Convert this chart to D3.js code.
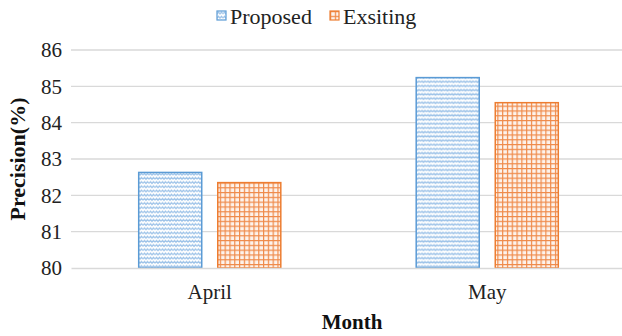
<!DOCTYPE html>
<html>
<head>
<meta charset="utf-8">
<script src="https://cdn.jsdelivr.net/npm/d3@7"></script>
<style>
  html, body { margin: 0; padding: 0; background: #fff; }
  svg { display: block; }
</style>
</head>
<body>
<svg id="chart" width="622" height="336"></svg>
<script>
// Monthly precision, proposed vs existing method
const months = ["April", "May"];
const seriesNames = ["Proposed", "Exsiting"];
const proposed = [82.63, 85.24];
const existing = [82.35, 84.55];
const yTicks = [80, 81, 82, 83, 84, 85, 86];

const FONT = "Liberation Serif";
const svg = d3.select("#chart");
const margin = { left: 71, right: -4, top: 50, bottom: 68 };
const W = 622, H = 336;
const x0 = margin.left, x1 = W - margin.right;
const yTop = margin.top, yBot = H - margin.bottom;

const rows = months.map((m, i) => ({ month: m, values: [proposed[i], existing[i]] }));

const x = d3.scaleBand().domain(months).range([x0, x1]).paddingInner(0).paddingOuter(0);
const xs = d3.scaleBand().domain(seriesNames).range([0, x.bandwidth()]).paddingInner(0.19).paddingOuter(0.85);
const y = d3.scaleLinear().domain([80, 86]).range([yBot, yTop]);

// Fill patterns
const defs = svg.append("defs");
const wave = defs.append("pattern").attr("id", "wave").attr("patternUnits", "userSpaceOnUse")
  .attr("width", 6).attr("height", 4.2);
wave.append("rect").attr("width", 6).attr("height", 4.2).attr("fill", "#fff");
wave.append("path").attr("d", "M0,2.8 L1.5,1.2 L3,2.8 L4.5,1.2 L6,2.8")
  .attr("fill", "none").attr("stroke", "#9cc2e8").attr("stroke-width", 1.3);

const grid = defs.append("pattern").attr("id", "grid").attr("patternUnits", "userSpaceOnUse")
  .attr("width", 4.8).attr("height", 4.8);
grid.append("rect").attr("width", 4.8).attr("height", 4.8).attr("fill", "#fdf3ec");
grid.append("path").attr("d", "M0.6,0 V4.8 M0,0.6 H4.8")
  .attr("stroke", "#ef8a4a").attr("stroke-width", 1.2);

const fills = { Proposed: "url(#wave)", Exsiting: "url(#grid)" };
const strokes = { Proposed: "#5b9bd5", Exsiting: "#ed7d31" };

// Gridlines
svg.append("g").selectAll("line").data(yTicks.filter(t => t !== 80)).join("line")
  .attr("x1", x0).attr("x2", x1)
  .attr("y1", d => y(d)).attr("y2", d => y(d))
  .attr("stroke", "#d9d9d9").attr("stroke-width", 1.3);

// Y axis labels
const yAxis = d3.axisLeft(y).tickValues(yTicks).tickSize(0).tickPadding(9).tickFormat(d3.format("d"));
const ya = svg.append("g").attr("transform", `translate(${x0},0)`).call(yAxis)
  .attr("font-family", FONT).attr("font-size", 21);
ya.select(".domain").remove();
ya.selectAll("text").attr("fill", "#222");

// Bars
const groups = svg.append("g").selectAll("g").data(rows).join("g")
  .attr("transform", d => `translate(${x(d.month)},0)`);
groups.selectAll("rect").data(d => d.values.map((v, i) => ({ key: seriesNames[i], value: v })))
  .join("rect")
  .attr("x", d => xs(d.key) + 0.5)
  .attr("width", xs.bandwidth() - 1)
  .attr("y", d => y(d.value))
  .attr("height", d => y(80) - y(d.value))
  .attr("fill", d => fills[d.key])
  .attr("stroke", d => strokes[d.key]).attr("stroke-width", 1.5);

// X axis
const xAxis = d3.axisBottom(x).tickSize(0).tickPadding(16);
const xa = svg.append("g").attr("transform", `translate(0,${yBot})`).call(xAxis)
  .attr("font-family", FONT).attr("font-size", 21);
xa.select(".domain").attr("stroke", "#d9d9d9").attr("stroke-width", 1.3);
xa.selectAll("text").attr("fill", "#222");

// Axis titles
svg.append("text").attr("x", 352).attr("y", 329).attr("text-anchor", "middle")
  .attr("font-family", FONT).attr("font-size", 21).attr("font-weight", "bold")
  .attr("fill", "#111").text("Month");
svg.append("text").attr("transform", `translate(25,${(yTop + yBot) / 2}) rotate(-90)`)
  .attr("text-anchor", "middle").attr("font-family", FONT).attr("font-size", 22)
  .attr("font-weight", "bold").attr("fill", "#111").text("Precision(%)");

// Legend
const legendItems = [
  { name: "Proposed", x: 217 },
  { name: "Exsiting", x: 330 }
];
const lg = svg.append("g").selectAll("g").data(legendItems).join("g")
  .attr("transform", d => `translate(${d.x},11)`);
lg.append("rect").attr("width", 9).attr("height", 9)
  .attr("fill", d => fills[d.name]).attr("stroke", d => strokes[d.name]).attr("stroke-width", 1.2);
lg.append("text").attr("x", 13).attr("y", 13).attr("font-family", FONT).attr("font-size", 22)
  .attr("fill", "#222").text(d => d.name);
</script>
</body>
</html>
